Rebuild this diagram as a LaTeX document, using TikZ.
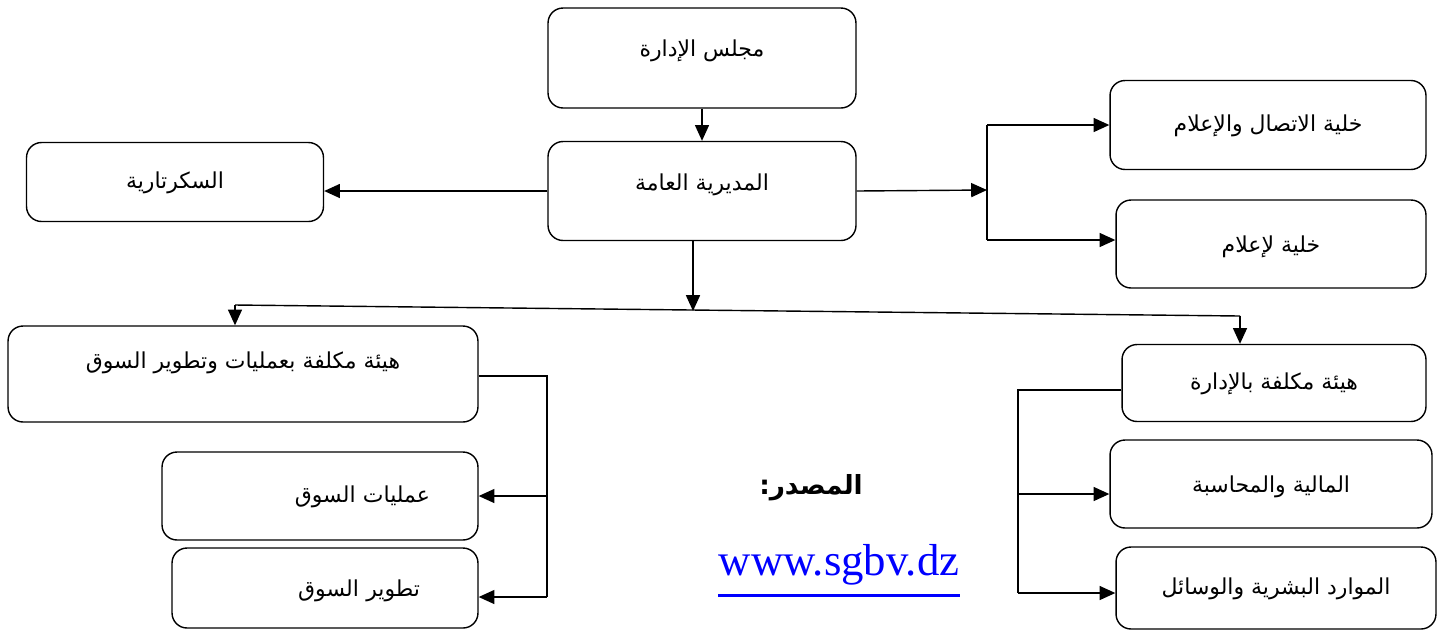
\documentclass[tikz,border=0pt]{standalone}
\usepackage{fontspec}
\setmainfont{Liberation Serif}
\newfontfamily\arabicfont[Script=Arabic]{DejaVu Sans}
\TeXXeTstate=1
\usepackage{xcolor}
\usepackage{tikz}
\usetikzlibrary{arrows.meta,calc,positioning}
\definecolor{linkblue}{HTML}{0000FF}
\newcommand{\artxt}[1]{{\arabicfont\beginR #1\endR}}

\begin{document}
\begin{tikzpicture}[x=0.02cm,y=-0.02cm,
    caixa/.style={draw, rounded corners=0.3cm, line width=0.8pt, inner sep=0pt,
                  text height=10pt, text depth=3pt,
                  font=\fontsize{12.5}{15}\selectfont},
    subir/.style={text depth=#1},
    seta/.style={-{Triangle[length=9pt,width=8pt]}, line width=0.8pt},
    linha/.style={line width=0.8pt}]

  \useasboundingbox (0,0) rectangle (1446,630);

  % ----- topo -----
  \node[caixa, subir=12pt, minimum width=6.16cm, minimum height=2.0cm]  (board) at (702,58)  {\artxt{مجلس الإدارة}};
  \node[caixa, subir=11pt, minimum width=6.16cm, minimum height=1.98cm] (gm)    at (702,191) {\artxt{المديرية العامة}};
  \node[caixa, minimum width=5.94cm, minimum height=1.58cm] (secr)  at (175,182) {\artxt{السكرتارية}};

  % ----- células à direita -----
  \node[caixa, minimum width=6.32cm, minimum height=1.78cm] (comm) at (1268,125) {\artxt{خلية  الاتصال والإعلام}};
  \node[caixa, subir=0pt, minimum width=6.2cm,  minimum height=1.76cm] (info) at (1271,244) {\artxt{خلية لإعلام}};

  % ----- ramo do mercado -----
  \node[caixa, subir=16pt, minimum width=9.4cm,  minimum height=1.92cm] (mkt) at (243,374) {\artxt{هيئة مكلفة بعمليات وتطوير السوق}};
  \node[caixa, minimum width=6.32cm, minimum height=1.76cm,
        text width=4.4cm, align=right] (ops) at (320,496) {\artxt{عمليات السوق}};
  \node[caixa, subir=0pt, minimum width=6.12cm, minimum height=1.6cm,
        text width=3.8cm, align=right] (dev) at (325,588) {\artxt{تطوير السوق}};

  % ----- ramo da administração -----
  \node[caixa, minimum width=6.08cm, minimum height=1.54cm] (adm) at (1274,383) {\artxt{هيئة مكلفة بالإدارة}};
  \node[caixa, subir=-4pt, minimum width=6.44cm, minimum height=1.76cm] (fin) at (1271,484) {\artxt{المالية والمحاسبة}};
  \node[caixa, minimum width=6.4cm,  minimum height=1.64cm] (hr)  at (1276,588) {\artxt{الموارد البشرية والوسائل}};

  % ----- fonte -----
  \node[font=\fontsize{15}{18}\selectfont\bfseries] (src) at (811,488) {\artxt{المصدر:}};
  \node[text=linkblue, inner sep=0pt, font=\fontsize{25.5}{30}\selectfont] (url) at (839,565) {www.sgbv.dz};
  \draw[linkblue, line width=1.6pt] ([yshift=-0.2cm]url.south west) -- ([yshift=-0.2cm]url.south east);

  % ----- pontos de junção -----
  \coordinate (jr) at (987,190);
  \coordinate (js) at (693,311);
  \coordinate (bl) at (235,305);
  \coordinate (br) at (1240,316);
  \coordinate (jl) at (547,376);
  \coordinate (jm) at (1018,390);

  % ----- ligações -----
  \draw[seta] (board) -- (gm);
  \draw[seta] (gm.west) -- (secr.east |- gm.west);
  \draw[seta] (gm.east) -- (jr);
  \draw[linha] (jr |- comm.west) -- ([yshift=0.08cm]jr |- info.west);
  \draw[seta] (jr |- comm.west) -- (comm.west);
  \draw[seta] ([yshift=0.08cm]jr |- info.west) -- ([yshift=0.08cm]info.west);

  \draw[seta] (gm.south -| js) -- (js);
  \draw[linha] (bl) -- (br);
  \draw[seta] (bl) -- (bl |- mkt.north);
  \draw[seta] (br) -- (br |- adm.north);

  \draw[linha] (mkt.east |- jl) -- (jl) -- ([yshift=-0.18cm]jl |- dev.east);
  \draw[seta] (jl |- ops.east) -- (ops.east);
  \draw[seta] ([yshift=-0.18cm]jl |- dev.east) -- ([yshift=-0.18cm]dev.east);

  \draw[linha] (adm.west |- jm) -- (jm) -- ([yshift=-0.1cm]jm |- hr.west);
  \draw[seta] ([yshift=-0.2cm]jm |- fin.west) -- ([yshift=-0.2cm]fin.west);
  \draw[seta] ([yshift=-0.1cm]jm |- hr.west) -- ([yshift=-0.1cm]hr.west);

\end{tikzpicture}
\end{document}
